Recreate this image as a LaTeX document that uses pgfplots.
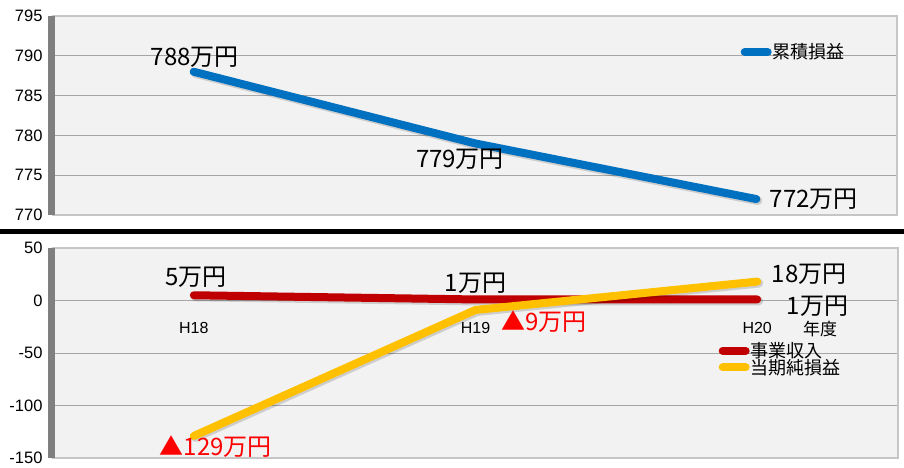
\documentclass[border=0pt]{standalone}
\usepackage{fontspec}
\setmainfont{Liberation Sans}
\newfontfamily\jp{Noto Sans CJK JP}
\usepackage{pgfplots}
\pgfplotsset{compat=1.18}
\definecolor{cblue}{HTML}{0070C0}
\definecolor{cred}{HTML}{C00000}
\definecolor{cyel}{HTML}{FFC000}
\definecolor{bgc}{HTML}{F2F2F2}
\definecolor{gridc}{HTML}{A6A6A6}
\definecolor{wallc}{HTML}{7F7F7F}
\pgfplotsset{
  common/.style={
    anchor=south west, scale only axis,
    xmin=-0.5, xmax=2.5,
    axis background/.style={fill=bgc},
    axis line style={draw=gray!45, line width=1.2pt},
    ymajorgrids, grid style={draw=gridc, line width=0.8pt},
    major tick length=0pt,
    /pgf/number format/assume math mode=true,
    yticklabel style={font=\fontsize{16.5}{16.5}\selectfont, xshift=-7pt},
    legend cell align=left,
    legend image code/.code={\draw[##1] (0pt,0pt) -- (23pt,0pt);},
    clip=false,
  },
  ser/.style={line width=8pt, line cap=round, line join=round},
  shd/.style={line width=9pt, line cap=round, line join=round, draw=black, opacity=0.15, forget plot, xshift=1.5pt, yshift=-1.5pt},
}
\newcommand{\lab}{\jp\fontsize{24}{24}\selectfont}
\begin{document}
\begin{tikzpicture}[x=1pt,y=1pt]
\path[use as bounding box] (0,0) rectangle (904,467);
\fill[black] (0,233) rectangle (904,238);
% top panel
\begin{axis}[common, at={(53pt,252pt)}, width=844pt, height=199pt,
  ymin=770, ymax=795, ytick={770,775,...,795}, xtick=\empty,
  legend style={at={(0.811,0.819)}, anchor=west, draw=none, fill=none,
    font=\jp\fontsize{18}{18}\selectfont, nodes={inner sep=1pt}},
]
\addplot[shd] coordinates {(0,788) (1,779) (2,772)};
\addplot[ser, cblue] coordinates {(0,788) (1,779) (2,772)};
\addlegendentry{累積損益}
\node[font=\lab, anchor=center] at ([shift={(1pt,15pt)}]axis cs:0,788) {788万円};
\node[font=\lab, anchor=center] at ([shift={(-15pt,-16pt)}]axis cs:1,779) {779万円};
\node[font=\lab, anchor=west] at ([shift={(10pt,0pt)}]axis cs:2,772) {772万円};
\end{axis}
\fill[wallc] (48pt,252pt) rectangle (55pt,451pt);
% bottom panel
\begin{axis}[common, at={(53pt,9pt)}, width=845pt, height=210pt,
  ymin=-150, ymax=50, ytick={-150,-100,...,50},
  xtick={0,1,2}, xticklabels={H18,H19,H20},
  xticklabel style={font=\fontsize{16}{16}\selectfont, anchor=center, yshift=130pt},
  legend style={at={(0.784,0.471)}, anchor=west, draw=none, fill=none,
    font=\jp\fontsize{18}{18}\selectfont, nodes={inner sep=0.5pt}, row sep=-1pt},
]
\addplot[shd] coordinates {(0,5) (1,1) (2,1)};
\addplot[ser, cred] coordinates {(0,5) (1,1) (2,1)};
\addlegendentry{事業収入}
\addplot[shd] coordinates {(0,-129) (1,-9) (2,18)};
\addplot[ser, cyel] coordinates {(0,-129) (1,-9) (2,18)};
\addlegendentry{当期純損益}
\node[font=\lab, anchor=center] at ([shift={(2pt,18pt)}]axis cs:0,5) {5万円};
\node[font=\lab, anchor=center] at ([shift={(0pt,16pt)}]axis cs:1,1) {1万円};
\node[font=\lab, anchor=west] at ([shift={(26pt,-7pt)}]axis cs:2,1) {1万円};
\node[font=\lab, anchor=west] at ([shift={(11pt,7pt)}]axis cs:2,18) {18万円};
\node[font=\lab, anchor=center, text=red] at ([shift={(22pt,-11pt)}]axis cs:0,-129) {▲129万円};
\node[font=\lab, anchor=west, text=red] at ([shift={(22pt,-12pt)}]axis cs:1,-9) {▲9万円};
\node[font=\jp\fontsize{17}{17}\selectfont, anchor=center] at ([shift={(63pt,-29pt)}]axis cs:2,0) {年度};
\end{axis}
\fill[wallc] (48pt,9pt) rectangle (55pt,219pt);
\end{tikzpicture}
\end{document}
